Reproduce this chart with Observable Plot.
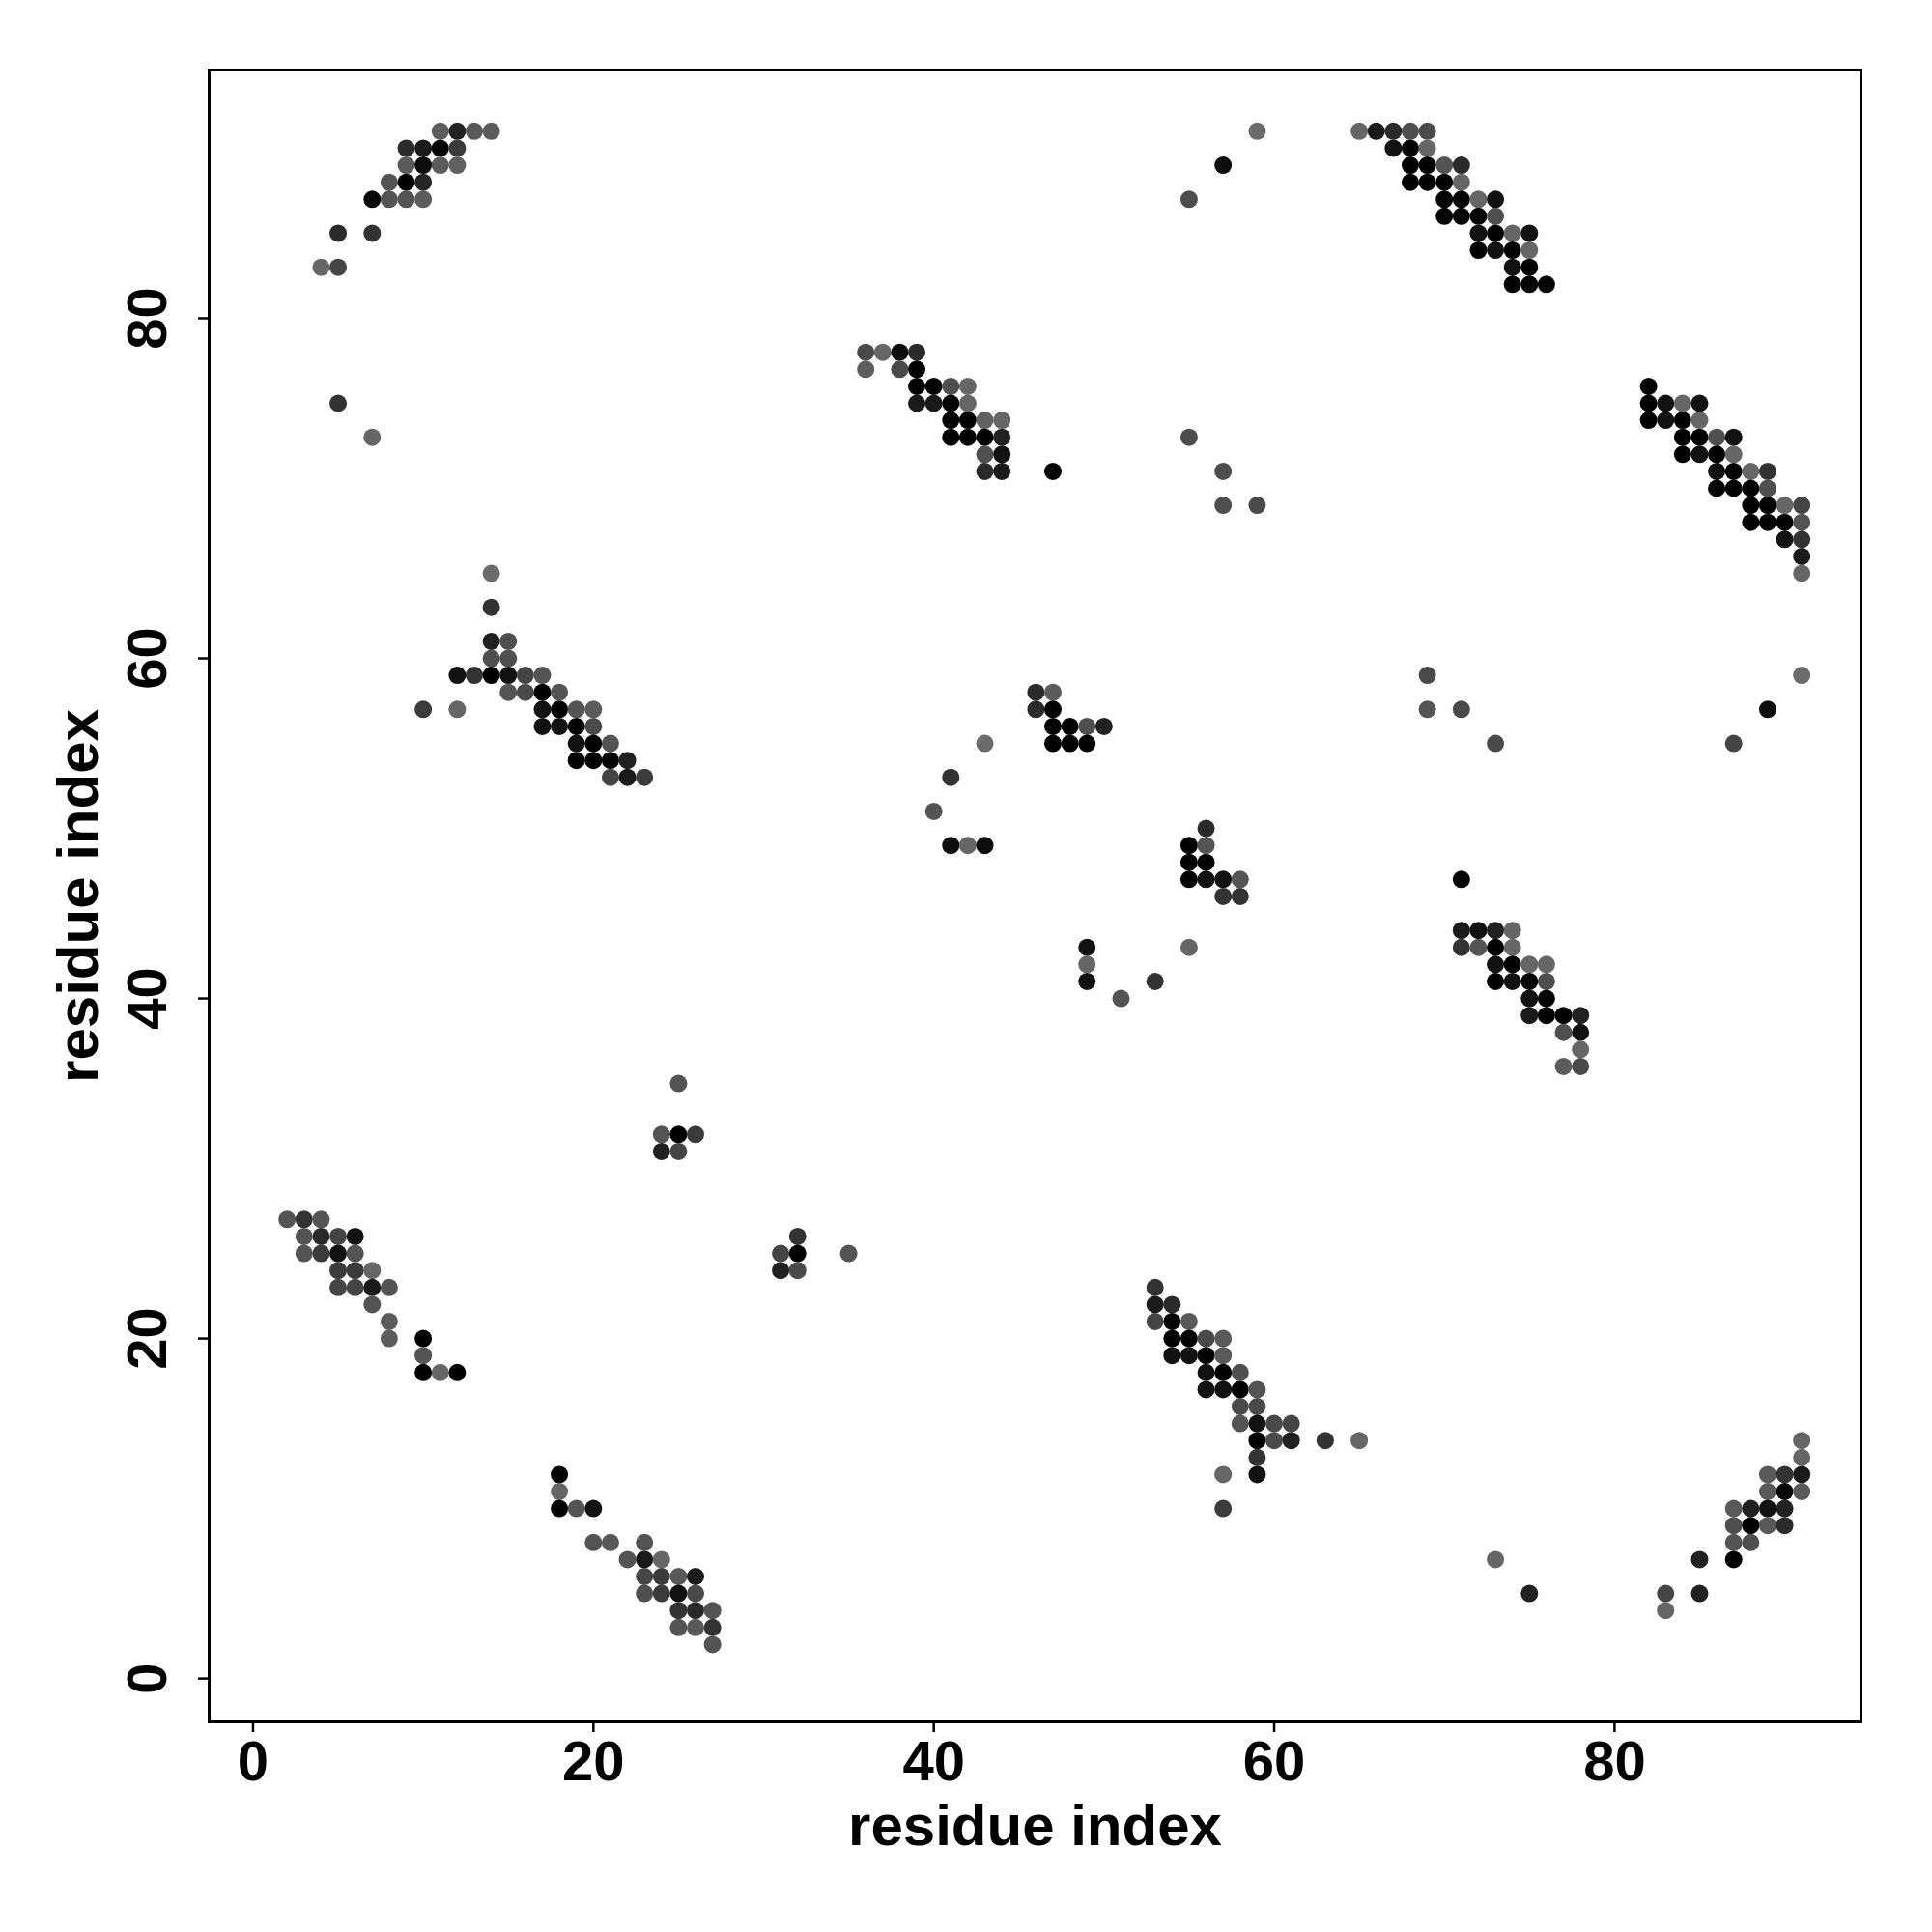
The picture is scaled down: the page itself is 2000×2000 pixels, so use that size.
<!DOCTYPE html>
<html>
<head>
<meta charset="utf-8">
<script src="https://cdn.jsdelivr.net/npm/d3@7"></script>
<script src="https://cdn.jsdelivr.net/npm/@observablehq/plot@0.6"></script>
<style>
  html, body { margin: 0; padding: 0; background: #ffffff; }
</style>
</head>
<body>
<div id="chart"></div>
<script>
// Predicted residue-residue contacts: [residue i, residue j, contact probability]
const clusterTopLeft = [
  [11,91,0.64],[12,91,0.87],[13,91,0.65],[14,91,0.64],
  [9,90,0.83],[10,90,0.9],[11,90,1.0],[12,90,0.77],
  [9,89,0.64],[10,89,0.95],[11,89,0.64],[12,89,0.62],
  [8,88,0.67],[9,88,1.0],[10,88,0.85],
  [7,87,0.97],[8,87,0.67],[9,87,0.67],[10,87,0.64],
  [5,85,0.83],[7,85,0.8],
  [4,83,0.6],[5,83,0.73],
  [5,75,0.8],[7,73,0.6]
];
const clusterTopMid = [
  [59,91,0.58],[57,89,0.95],[55,87,0.7],
  [55,73,0.7],[57,71,0.7],[57,69,0.69],[59,69,0.71]
];
const cluster36to44 = [
  [36,78,0.71],[37,78,0.6],[38,78,0.95],[39,78,0.83],
  [36,77,0.63],[38,77,0.71],[39,77,1.0],
  [39,76,1.0],[40,76,1.0],[41,76,0.69],[42,76,0.6],
  [39,75,0.9],[40,75,0.9],[41,75,1.0],[42,75,0.6],
  [41,74,1.0],[42,74,1.0],[43,74,0.62],[44,74,0.6],
  [41,73,1.0],[42,73,1.0],[43,73,1.0],[44,73,0.87],
  [43,72,0.69],[44,72,0.93],
  [43,71,0.83],[44,71,0.9],[47,71,1.0]
];
const clusterTopRight = [
  [65,91,0.6],[66,91,0.9],[67,91,0.83],[68,91,0.69],[69,91,0.71],
  [67,90,0.93],[68,90,1.0],[69,90,0.6],
  [68,89,1.0],[69,89,1.0],[70,89,0.67],[71,89,0.83],
  [68,88,1.0],[69,88,1.0],[70,88,1.0],[71,88,0.6],
  [70,87,1.0],[71,87,1.0],[72,87,0.6],[73,87,0.93],
  [70,86,1.0],[71,86,1.0],[72,86,1.0],[73,86,0.69],
  [72,85,0.93],[73,85,1.0],[74,85,0.6],[75,85,0.93],
  [72,84,1.0],[73,84,0.93],[74,84,1.0],[75,84,0.6],
  [74,83,0.93],[75,83,1.0],
  [74,82,1.0],[75,82,1.0],[76,82,1.0]
];
const clusterRight = [
  [82,76,1.0],
  [82,75,1.0],[83,75,0.93],[84,75,0.6],[85,75,0.93],
  [82,74,1.0],[83,74,0.93],[84,74,1.0],[85,74,0.6],
  [84,73,1.0],[85,73,1.0],[86,73,0.69],[87,73,0.93],
  [84,72,1.0],[85,72,0.93],[86,72,1.0],[87,72,0.6],
  [86,71,0.93],[87,71,1.0],[88,71,0.6],[89,71,0.8],
  [86,70,1.0],[87,70,1.0],[88,70,1.0],[89,70,0.69],
  [88,69,1.0],[89,69,1.0],[90,69,0.6],[91,69,0.73],
  [88,68,1.0],[89,68,1.0],[90,68,1.0],[91,68,0.67],
  [90,67,0.93],[91,67,0.8],
  [91,66,0.9],[91,65,0.6]
];
const cluster10to23 = [
  [14,65,0.58],[14,63,0.8],
  [14,61,0.87],[15,61,0.69],
  [14,60,0.69],[15,60,0.69],
  [12,59,0.93],[13,59,0.8],[14,59,1.0],[15,59,0.93],[16,59,0.73],[17,59,0.67],
  [15,58,0.67],[16,58,0.71],[17,58,1.0],[18,58,0.67],
  [10,57,0.77],[12,57,0.6],[17,57,0.93],[18,57,1.0],[19,57,0.67],[20,57,0.64],
  [17,56,0.93],[18,56,0.93],[19,56,1.0],[20,56,0.71],
  [19,55,0.93],[20,55,1.0],[21,55,0.67],
  [19,54,1.0],[20,54,1.0],[21,54,1.0],[22,54,0.87],
  [21,53,0.73],[22,53,0.9],[23,53,0.77]
];
const clusterCenter = [
  [46,58,0.83],[47,58,0.64],
  [46,57,0.83],[47,57,1.0],
  [47,56,1.0],[48,56,1.0],[49,56,0.69],[50,56,0.87],
  [47,55,1.0],[48,55,1.0],[49,55,1.0],[43,55,0.58],
  [41,53,0.8],[40,51,0.67],
  [41,49,0.95],[42,49,0.6],[43,49,0.95],
  [56,50,0.83],
  [55,49,1.0],[56,49,0.67],
  [55,48,1.0],[56,48,1.0],
  [55,47,1.0],[56,47,0.93],[57,47,0.93],[58,47,0.67],
  [57,46,0.8],[58,46,0.8],
  [49,43,0.93],[55,43,0.6],[49,42,0.6],[49,41,0.93],[53,41,0.8],[51,40,0.67]
];
const clusterRightMid = [
  [69,59,0.71],[91,59,0.58],[69,57,0.67],[71,57,0.71],[89,57,0.95],
  [73,55,0.71],[87,55,0.73],[71,47,1.0],
  [71,44,0.9],[72,44,0.93],[73,44,0.87],[74,44,0.6],
  [71,43,0.8],[72,43,0.67],[73,43,1.0],[74,43,0.6],
  [73,42,0.93],[74,42,1.0],[75,42,0.6],[76,42,0.6],
  [73,41,1.0],[74,41,0.93],[75,41,1.0],[76,41,0.69],
  [75,40,0.93],[76,40,1.0],
  [75,39,0.9],[76,39,1.0],[77,39,1.0],[78,39,0.87],
  [77,38,0.69],[78,38,0.93],
  [78,37,0.6],
  [77,36,0.64],[78,36,0.71]
];
const clusterSmall = [
  [25,35,0.67],[24,32,0.67],[25,32,1.0],[26,32,0.77],[24,31,0.87],[25,31,0.73],
  [32,26,0.8],[31,25,0.73],[32,25,1.0],[35,25,0.67],[31,24,0.87],[32,24,0.71]
];
const clusterBottomLeft = [
  [2,27,0.67],[3,27,0.8],[4,27,0.67],
  [3,26,0.67],[4,26,0.83],[5,26,0.73],[6,26,0.93],
  [3,25,0.67],[4,25,0.77],[5,25,0.93],[6,25,0.67],
  [5,24,0.77],[6,24,0.77],[7,24,0.6],
  [5,23,0.73],[6,23,0.73],[7,23,0.9],[8,23,0.67],
  [7,22,0.67],[8,21,0.64],
  [8,20,0.64],[10,20,1.0],
  [10,19,0.67],
  [10,18,1.0],[11,18,0.6],[12,18,1.0]
];
const clusterBottom18to27 = [
  [18,12,1.0],[18,11,0.6],
  [18,10,1.0],[19,10,0.67],[20,10,0.93],
  [20,8,0.67],[21,8,0.65],[23,8,0.67],
  [22,7,0.67],[23,7,0.9],[24,7,0.6],
  [23,6,0.73],[24,6,0.77],[25,6,0.65],[26,6,0.9],
  [23,5,0.69],[24,5,0.77],[25,5,0.93],[26,5,0.71],
  [25,4,0.8],[26,4,0.83],[27,4,0.67],
  [25,3,0.67],[26,3,0.65],[27,3,0.8],
  [27,2,0.67]
];
const clusterBottom53to65 = [
  [53,23,0.8],
  [53,22,0.9],[54,22,0.83],
  [53,21,0.73],[54,21,1.0],[55,21,0.65],
  [54,20,1.0],[55,20,1.0],[56,20,0.71],[57,20,0.65],
  [54,19,0.93],[55,19,0.93],[56,19,1.0],[57,19,0.65],
  [56,18,0.93],[57,18,1.0],[58,18,0.69],
  [56,17,0.93],[57,17,0.93],[58,17,1.0],[59,17,0.67],
  [58,16,0.71],[59,16,0.71],
  [58,15,0.67],[59,15,0.93],[60,15,0.71],[61,15,0.73],
  [59,14,1.0],[60,14,0.71],[61,14,0.87],[63,14,0.8],[65,14,0.6],
  [59,13,0.8],
  [57,12,0.6],[59,12,0.93],
  [57,10,0.77]
];
const clusterBottomRight = [
  [73,7,0.6],[75,5,0.87],[83,5,0.73],[83,4,0.6],[85,5,0.87],[85,7,0.87],
  [91,14,0.6],[91,13,0.6],
  [89,12,0.65],[90,12,0.8],[91,12,0.9],
  [89,11,0.65],[90,11,1.0],[91,11,0.65],
  [87,10,0.65],[88,10,0.87],[89,10,0.93],[90,10,0.87],
  [87,9,0.69],[88,9,1.0],[89,9,0.65],[90,9,0.83],
  [87,8,0.67],[88,8,0.69],
  [87,7,1.0]
];

const xTicks = [0, 20, 40, 60, 80];
const yTicks = [0, 20, 40, 60, 80];
const xLabel = "residue index";
const yLabel = "residue index";

const contacts = [
  ...clusterTopLeft, ...clusterTopMid, ...cluster36to44, ...clusterTopRight,
  ...clusterRight, ...cluster10to23, ...clusterCenter, ...clusterRightMid,
  ...clusterSmall, ...clusterBottomLeft, ...clusterBottom18to27,
  ...clusterBottom53to65, ...clusterBottomRight
].map(([i, j, p]) => ({i, j, p}));

const font = "'Liberation Sans', Arial, Helvetica, sans-serif";

const chart = Plot.plot({
  width: 2000,
  height: 2000,
  marginLeft: 216,
  marginRight: 74,
  marginTop: 72,
  marginBottom: 218,
  x: {domain: [-2.58, 94.48]},
  y: {domain: [-2.55, 94.6]},
  color: {type: "linear", domain: [0, 1], range: ["#ffffff", "#000000"]},
  style: {fontFamily: font, background: "#ffffff", color: "#000000"},
  marks: [
    Plot.dot(contacts, {x: "i", y: "j", r: 9, fill: "p", stroke: "none"}),
    Plot.frame({stroke: "#000000", strokeWidth: 3}),
    Plot.axisX({ticks: xTicks, tickSize: 11, tickPadding: 8, strokeWidth: 2.5,
                fontSize: 58, fontWeight: "bold", label: null, fill: "#000000"}),
    Plot.axisY({ticks: yTicks, tickSize: 11, tickFormat: () => "", strokeWidth: 2.5, label: null}),
    Plot.text(yTicks, {y: d => d, frameAnchor: "left", dx: -63, rotate: -90,
                       text: d => String(d), fontSize: 58, fontWeight: "bold",
                       lineAnchor: "middle", textAnchor: "middle", fill: "#000000"}),
    Plot.text([xLabel], {frameAnchor: "bottom", dy: 108, text: d => d, fontSize: 60,
                         fontWeight: "bold", lineAnchor: "middle", textAnchor: "middle", fill: "#000000"}),
    Plot.text([yLabel], {frameAnchor: "left", dx: -135, rotate: -90, text: d => d, fontSize: 60,
                         fontWeight: "bold", lineAnchor: "middle", textAnchor: "middle", fill: "#000000"})
  ]
});
document.getElementById("chart").appendChild(chart);
</script>
</body>
</html>
